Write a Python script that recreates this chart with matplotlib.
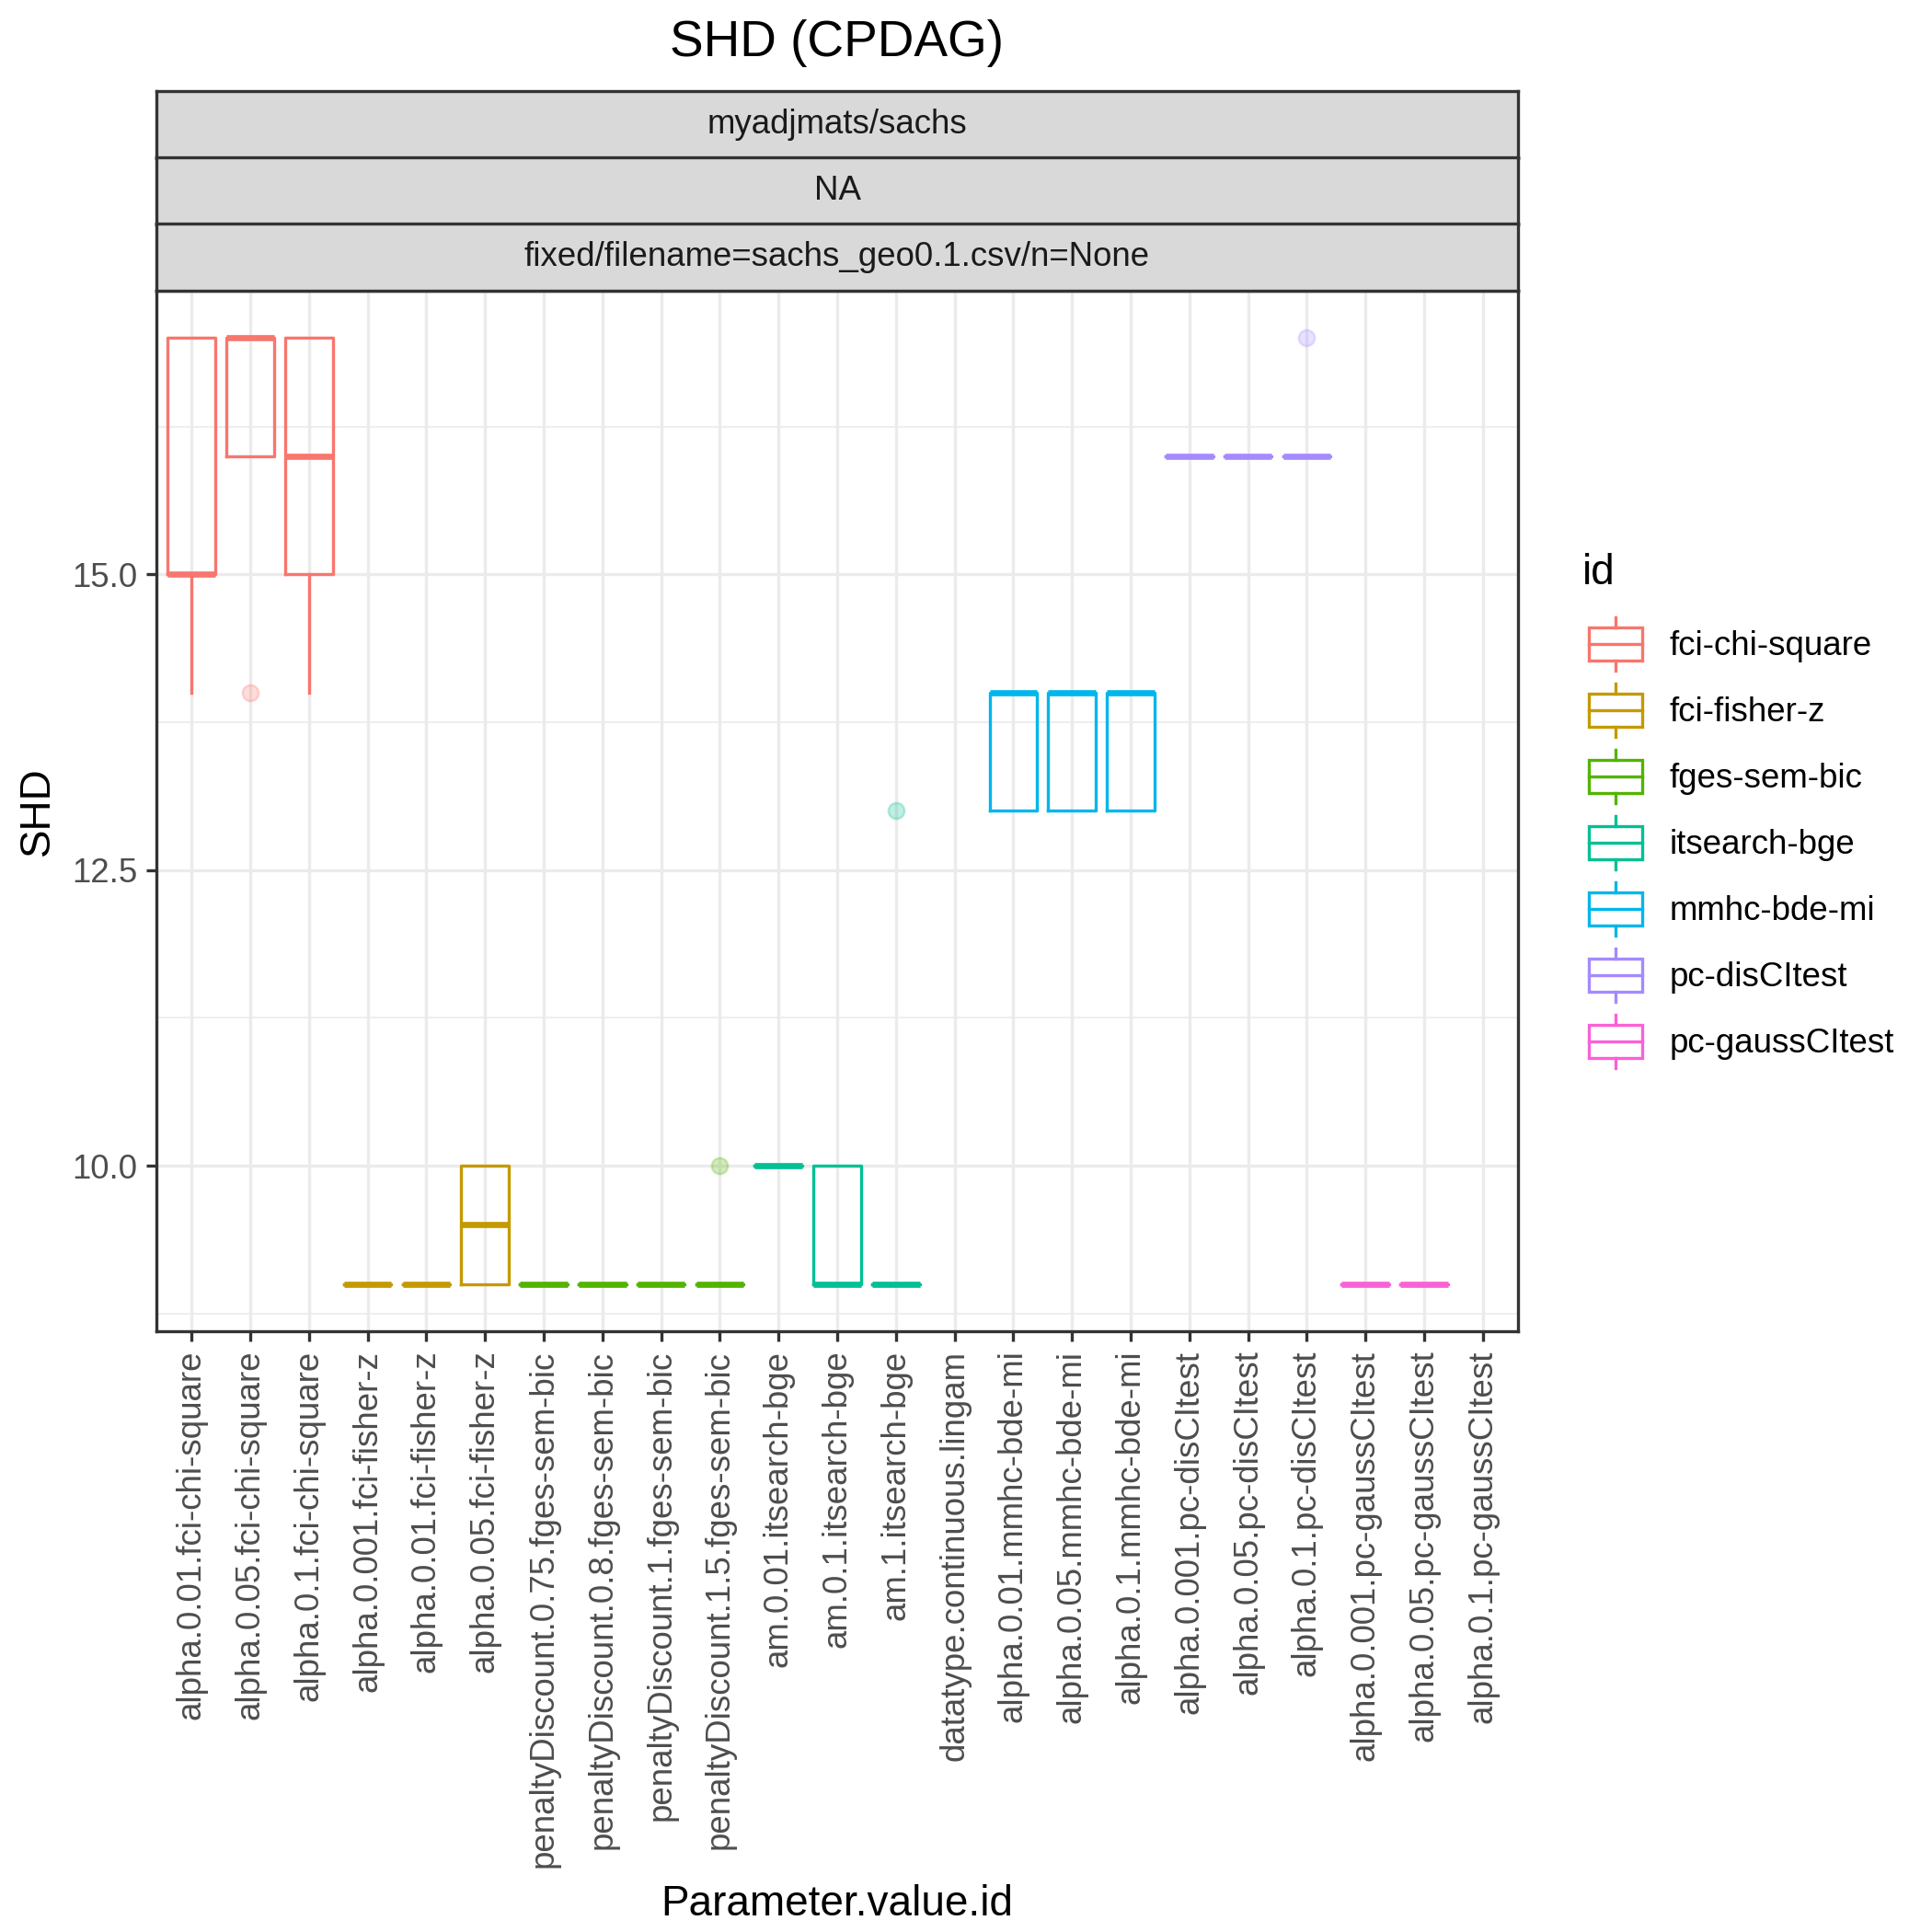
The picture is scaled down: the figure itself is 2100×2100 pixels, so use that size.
import matplotlib
matplotlib.use("Agg")
from matplotlib import pyplot as plt
from matplotlib.patches import Patch, Rectangle
from matplotlib.lines import Line2D
from matplotlib.legend_handler import HandlerBase
from matplotlib.ticker import MultipleLocator
import numpy as np

plt.rcParams['font.family'] = ['Liberation Sans', 'DejaVu Sans']

# Data
categories = [
    "alpha.0.01.fci-chi-square", "alpha.0.05.fci-chi-square", "alpha.0.1.fci-chi-square",
    "alpha.0.001.fci-fisher-z", "alpha.0.01.fci-fisher-z", "alpha.0.05.fci-fisher-z",
    "penaltyDiscount.0.75.fges-sem-bic", "penaltyDiscount.0.8.fges-sem-bic",
    "penaltyDiscount.1.fges-sem-bic", "penaltyDiscount.1.5.fges-sem-bic",
    "am.0.01.itsearch-bge", "am.0.1.itsearch-bge", "am.1.itsearch-bge",
    "datatype.continuous.lingam",
    "alpha.0.01.mmhc-bde-mi", "alpha.0.05.mmhc-bde-mi", "alpha.0.1.mmhc-bde-mi",
    "alpha.0.001.pc-disCItest", "alpha.0.05.pc-disCItest", "alpha.0.1.pc-disCItest",
    "alpha.0.001.pc-gaussCItest", "alpha.0.05.pc-gaussCItest", "alpha.0.1.pc-gaussCItest",
]
shd_values = [
    [14, 15, 15, 17, 17], [14, 16, 17, 17, 17], [14, 15, 16, 17, 17],
    [9, 9, 9, 9, 9], [9, 9, 9, 9, 9], [9, 9, 10, 10],
    [9, 9, 9, 9, 9], [9, 9, 9, 9, 9], [9, 9, 9, 9, 9], [9, 9, 9, 9, 10],
    [10, 10, 10, 10, 10], [9, 9, 9, 10, 10], [9, 9, 9, 9, 13],
    [],
    [13, 13, 14, 14, 14], [13, 13, 14, 14, 14], [13, 13, 14, 14, 14],
    [16, 16, 16, 16, 16], [16, 16, 16, 16, 16], [16, 16, 16, 16, 17],
    [9, 9, 9, 9, 9], [9, 9, 9, 9, 9], [],
]
algo_ids = ["fci-chi-square", "fci-fisher-z", "fges-sem-bic", "itsearch-bge",
            "mmhc-bde-mi", "pc-disCItest", "pc-gaussCItest"]
algo_colors = ["#F8766D", "#C49A00", "#53B400", "#00C094", "#00B6EB", "#A58AFF", "#FB61D7"]
strip_labels = ["myadjmats/sachs", "NA", "fixed/filename=sachs_geo0.1.csv/n=None"]

W = 2100.0
fig = plt.figure(figsize=(7, 7), dpi=300)
ax = fig.add_axes([170 / W, 1 - 1447 / W, 1480 / W, (1447 - 316) / W])

lw = 0.8
for i, (cat, vals) in enumerate(zip(categories, shd_values)):
    if len(vals) == 0:
        continue
    algo = next(a for a in algo_ids if cat.endswith(a))
    c = algo_colors[algo_ids.index(algo)]
    ax.boxplot([vals], positions=[i + 1], widths=0.81, whis=1.5, showcaps=False,
               manage_ticks=False,
               boxprops=dict(color=c, lw=lw),
               whiskerprops=dict(color=c, lw=lw),
               medianprops=dict(color=c, lw=lw * 2, solid_capstyle='butt'),
               flierprops=dict(marker='o', markerfacecolor=c, markeredgecolor=c,
                               markersize=4.2, alpha=0.25, markeredgewidth=0.6))

ax.set_xlim(0.4, len(categories) + 0.6)
ax.set_ylim(8.6, 17.4)
ax.set_xticks(np.arange(1, len(categories) + 1))
ax.set_xticklabels(categories, rotation=90, va='top', ha='center')
ax.yaxis.set_major_locator(MultipleLocator(2.5))
ax.yaxis.set_minor_locator(MultipleLocator(1.25))
ax.yaxis.set_major_formatter(matplotlib.ticker.FormatStrFormatter('%.1f'))
ax.grid(which='major', color='#EBEBEB', lw=0.8)
ax.grid(which='minor', axis='y', color='#EBEBEB', lw=0.4)
ax.set_axisbelow(True)
ax.tick_params(which='major', length=2.75, width=0.8, color='#333333',
               labelcolor='#4D4D4D', labelsize=8.8, pad=2.2)
ax.tick_params(which='minor', length=0)
for s in ax.spines.values():
    s.set_color('#333333')
    s.set_linewidth(0.8)

# facet strips
strip_tops = [99, 171, 243]
for lab, top in zip(strip_labels, strip_tops):
    sax = fig.add_axes([170 / W, 1 - (top + 72.5) / W, 1480 / W, 72.5 / W])
    sax.set_facecolor('#D9D9D9')
    sax.set_xticks([])
    sax.set_yticks([])
    for s in sax.spines.values():
        s.set_color('#333333')
        s.set_linewidth(0.8)
    sax.text(0.5, 0.5, lab, ha='center', va='center', fontsize=8.8, color='#1A1A1A',
             transform=sax.transAxes)

fig.text(910 / W, 1 - 47 / W, "SHD (CPDAG)", ha='center', va='center', fontsize=13.2)
fig.text(41 / W, 1 - 881.5 / W, "SHD", ha='center', va='center', rotation=90, fontsize=11)
fig.text(910 / W, 1 - 2070 / W, "Parameter.value.id", ha='center', va='center', fontsize=11)

KEY = 17.28  # legend key size in points (ggplot default)


class BoxKey(HandlerBase):
    def create_artists(self, legend, orig_handle, xdescent, ydescent, width, height,
                       fontsize, trans):
        c = orig_handle.get_edgecolor()
        x0 = -xdescent
        cy = -ydescent + height / 2
        rect = Rectangle((x0 + 0.1 * width, cy - 0.25 * KEY), 0.8 * width, 0.5 * KEY,
                         fill=False, ec=c, lw=lw, transform=trans)
        med = Line2D([x0 + 0.1 * width, x0 + 0.9 * width], [cy, cy],
                     color=c, lw=lw, transform=trans)
        w1 = Line2D([x0 + 0.5 * width] * 2, [cy - 0.4 * KEY, cy - 0.25 * KEY],
                    color=c, lw=lw, transform=trans)
        w2 = Line2D([x0 + 0.5 * width] * 2, [cy + 0.25 * KEY, cy + 0.4 * KEY],
                    color=c, lw=lw, transform=trans)
        return [rect, med, w1, w2]


handles = [Patch(edgecolor=c, facecolor='none') for c in algo_colors]
leg = fig.legend(handles, algo_ids, title='id', loc='upper left',
                 bbox_to_anchor=(1720 / W, 1 - 601 / W), frameon=False,
                 fontsize=8.8, title_fontsize=11, handlelength=1.96, handleheight=1.513,
                 labelspacing=0.735, handletextpad=0.625, borderpad=0, borderaxespad=0,
                 handler_map={Patch: BoxKey()})
leg._legend_box.align = 'left'
leg._legend_box.sep = 7.8  # a bit more room under the legend title

fig.savefig("out.png", dpi=300)
